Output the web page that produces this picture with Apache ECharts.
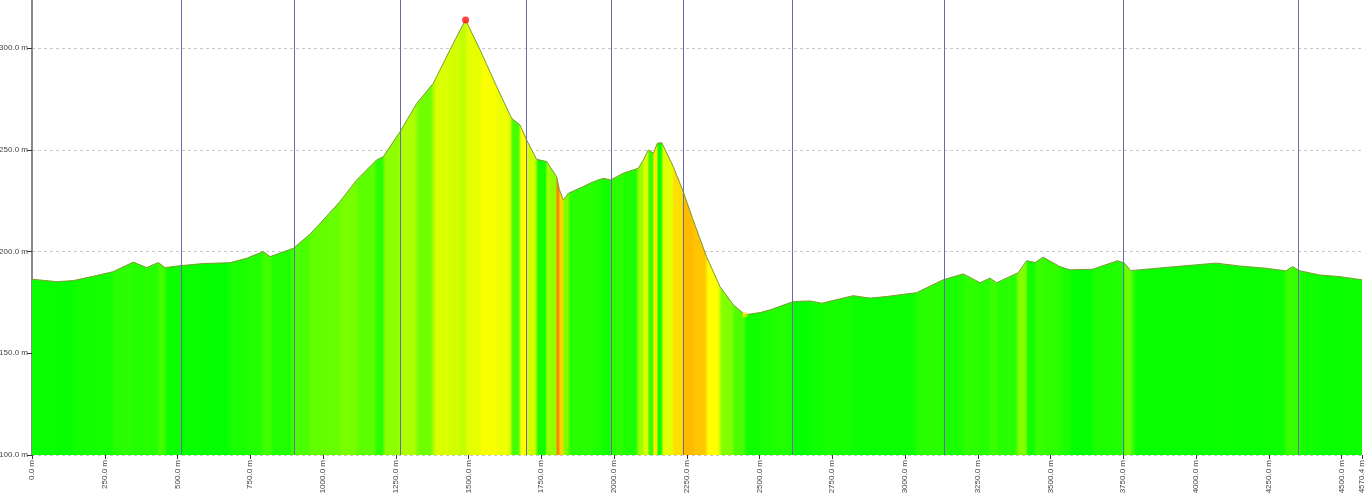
<!DOCTYPE html>
<html><head><meta charset="utf-8">
<script src="https://cdn.jsdelivr.net/npm/echarts@6/dist/echarts.min.js"></script>
<style>html,body{margin:0;padding:0;background:#fff}#c{width:1366px;height:495px}</style>
</head><body><div id="c"></div>
<script>
// distance along route (m)
const distances = [0,85,142,222,279,348,394,434,457,514,589,680,738,795,818,898,955,1001,1058,1116,1184,1207,1265,1322,1379,1436,1471,1490,1540,1597,1648,1677,1700,1734,1769,1780,1803,1812,1826,1843,1894,1929,1963,1989,2032,2083,2101,2118,2135,2149,2164,2204,2238,2272,2318,2364,2410,2450,2502,2536,2616,2673,2714,2822,2880,2937,3040,3131,3200,3258,3292,3315,3389,3418,3447,3475,3532,3567,3645,3731,3754,3776,3897,4069,4149,4240,4309,4332,4355,4424,4492,4570.4];
// elevation (m)
const elevations = [1186.4,1185.2,1185.7,1188.2,1190.1,1194.8,1192.1,1194.6,1192.1,1193.1,1194.1,1194.5,1196.7,1200.0,1197.5,1201.6,1208.5,1215.5,1224.5,1235.2,1245.0,1246.6,1258.9,1272.8,1282.7,1299.0,1308.8,1313.8,1299.0,1281.0,1265.5,1262.2,1254.8,1245.3,1244.2,1241.7,1236.8,1230.5,1225.3,1228.6,1231.9,1234.3,1236.0,1235.2,1238.5,1240.9,1245.0,1249.9,1248.3,1253.2,1253.5,1241.7,1229.4,1215.5,1197.5,1182.8,1173.8,1168.9,1170.0,1171.3,1175.4,1175.7,1174.6,1178.3,1177.1,1177.9,1179.8,1186.1,1189.0,1184.7,1186.9,1184.7,1189.6,1195.5,1194.6,1197.2,1192.6,1191.0,1191.3,1195.5,1194.3,1190.6,1192.2,1194.3,1192.9,1191.8,1190.5,1192.6,1190.6,1188.5,1187.7,1186.1];
// waypoint markers (m)
const waypointDistances = [512,902.7,1265.6,1697.5,1989.6,2238.1,2614,3136.3,3750,4352.7];
// axes
const xRange = [0, 4570.4];
const xTickStep = 250;
const yRange = [1100, 1324.6];
const yTickStep = 50;

// grade (%) -> colour ramp
const ramp = [[0,[0,255,0]],[10,[60,255,0]],[20,[130,255,0]],[28,[210,255,0]],[32,[255,255,0]],[40,[255,190,0]],[55,[255,130,0]]];
function gradeColor(g){
  g = Math.abs(g);
  if (g <= ramp[0][0]) return ramp[0][1];
  for (let i=1;i<ramp.length;i++){
    if (g <= ramp[i][0]){
      const a=ramp[i-1], b=ramp[i], t=(g-a[0])/(b[0]-a[0]);
      return a[1].map((v,k)=>Math.round(v+(b[1][k]-v)*t));
    }
  }
  return ramp[ramp.length-1][1];
}
const span = xRange[1]-xRange[0];
const stops = [];
for (let i=0;i<distances.length-1;i++){
  const g = (elevations[i+1]-elevations[i])/(distances[i+1]-distances[i])*100;
  const c = gradeColor(g);
  const col = 'rgb('+c.join(',')+')';
  const o0 = (distances[i]-xRange[0])/span, o1=(distances[i+1]-xRange[0])/span;
  const w = o1-o0;
  stops.push({offset:o0+w*0.15, color:col});
  stops.push({offset:o1-w*0.15, color:col});
}

const pts = distances.map((d,i)=>[d,elevations[i]]);
let iMax=0,iMin=0;
elevations.forEach((e,i)=>{ if(e>elevations[iMax]) iMax=i; if(e<elevations[iMin]) iMin=i; });

const chart = echarts.init(document.getElementById('c'));
const lab = {fontFamily:'Liberation Sans, Arial, sans-serif', fontSize:8, color:'#444'};
chart.setOption({
  animation:false,
  grid:{left:32,right:4,top:-2,bottom:40,containLabel:false,outerBoundsMode:'none'},
  xAxis:{type:'value',min:xRange[0],max:xRange[1],interval:xTickStep,
    axisLine:{show:false},
    axisTick:{show:true,length:4,lineStyle:{color:'#333'}},
    axisLabel:Object.assign({rotate:90,margin:5,showMinLabel:true,showMaxLabel:true,hideOverlap:false,
      formatter:v=>v.toFixed(1)+' m'},lab),
    splitLine:{show:false}},
  yAxis:{type:'value',min:yRange[0],max:yRange[1],interval:yTickStep,
    axisLine:{show:true,lineStyle:{color:'#8a8a8a',width:2}},
    axisTick:{show:true,length:5,lineStyle:{color:'#333'}},
    axisLabel:Object.assign({margin:4,showMaxLabel:false,formatter:v=>v.toFixed(1)+' m'},lab),
    splitLine:{show:true,lineStyle:{color:'#c8c8c8',type:[3,3],width:1}}},
  series:[
    {type:'line',data:pts,symbol:'none',smooth:false,
     lineStyle:{color:'#7a9a30',width:1},
     areaStyle:{opacity:1,color:new echarts.graphic.LinearGradient(0,0,1,0,stops)},
     markLine:{silent:true,symbol:['none','none'],label:{show:false},
       lineStyle:{color:'#6a6aa8',width:1,type:'solid'},
       data:waypointDistances.map(d=>({xAxis:d}))},
     z:2},
    {type:'scatter',data:[pts[iMax]],symbol:'circle',symbolSize:7,itemStyle:{color:'#ff1010'},z:5},
    {type:'scatter',data:[pts[iMin]],symbol:'circle',symbolSize:5,itemStyle:{color:'#ffe800'},z:5}
  ]
});
</script></body></html>
